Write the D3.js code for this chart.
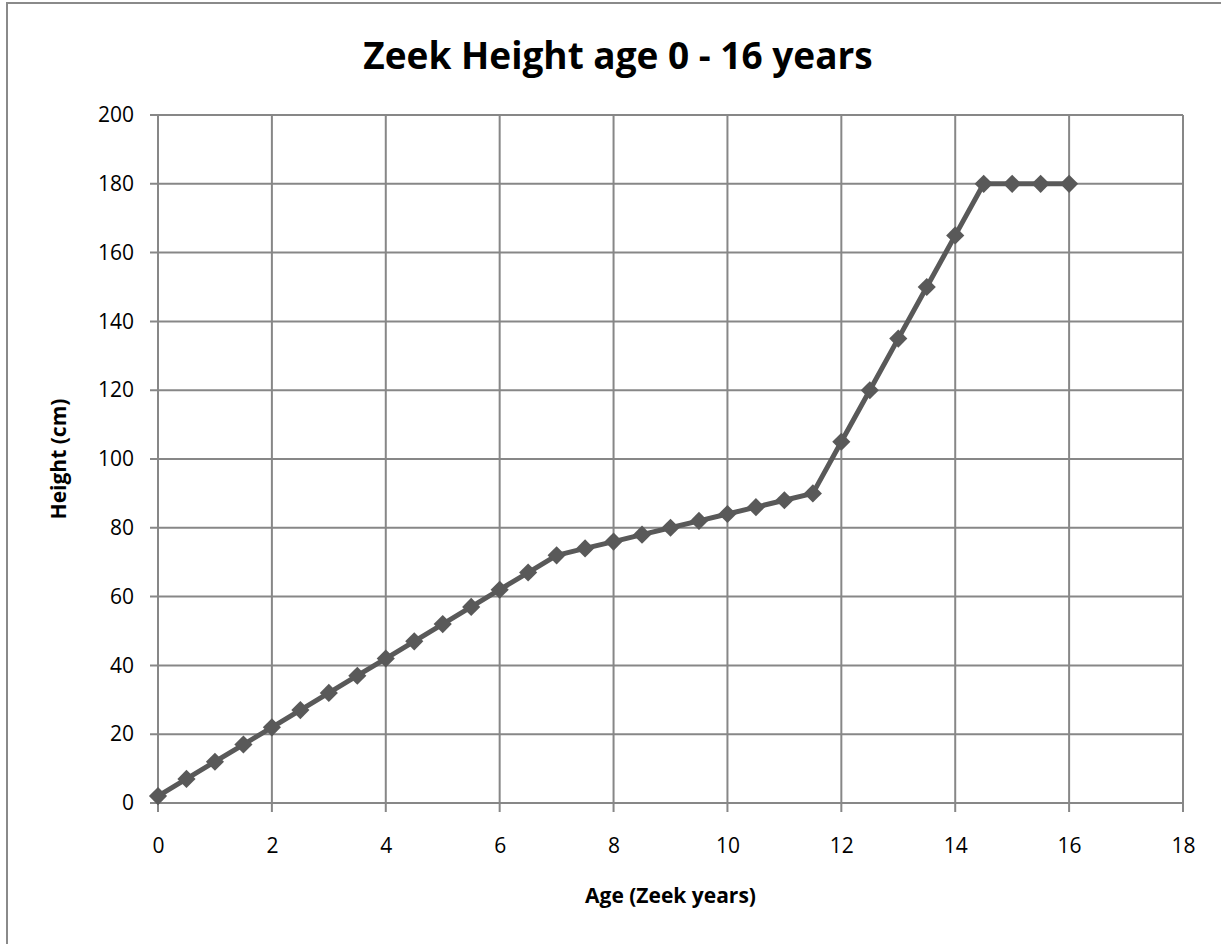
<!DOCTYPE html>
<html>
<head>
<meta charset="utf-8">
<script src="https://cdn.jsdelivr.net/npm/d3@7"></script>
<style>
  body { margin: 0; background: #fff; }
  svg { display: block; font-family: "Open Sans", sans-serif; }
</style>
</head>
<body>
<div id="chart"></div>
<script>
const ages = [0, 0.5, 1, 1.5, 2, 2.5, 3, 3.5, 4, 4.5, 5, 5.5, 6, 6.5, 7, 7.5, 8, 8.5, 9, 9.5, 10, 10.5, 11, 11.5, 12, 12.5, 13, 13.5, 14, 14.5, 15, 15.5, 16];
const heights = [2, 7, 12, 17, 22, 27, 32, 37, 42, 47, 52, 57, 62, 67, 72, 74, 76, 78, 80, 82, 84, 86, 88, 90, 105, 120, 135, 150, 165, 180, 180, 180, 180];
const xTicks = [0, 2, 4, 6, 8, 10, 12, 14, 16, 18];
const yTicks = [0, 20, 40, 60, 80, 100, 120, 140, 160, 180, 200];

const W = 1221, H = 944;
const margin = { top: 115, right: 38, bottom: 141, left: 158 };
const width = W - margin.left - margin.right;
const height = H - margin.top - margin.bottom;

const svg = d3.select('#chart')
  .append('svg')
  .attr('width', W)
  .attr('height', H);

// outer chart border (runs off the right and bottom edges)
svg.append('rect')
  .attr('x', 7).attr('y', 3)
  .attr('width', W).attr('height', H)
  .attr('fill', 'none')
  .attr('stroke', '#8a8a8a')
  .attr('stroke-width', 2);

const g = svg.append('g')
  .attr('transform', `translate(${margin.left}, ${margin.top})`);

const x = d3.scaleLinear().domain([0, 18]).range([0, width]);
const y = d3.scaleLinear().domain([0, 200]).range([height, 0]);

// gridlines + tick stubs
g.append('g')
  .selectAll('line')
  .data(yTicks)
  .enter()
  .append('line')
  .attr('x1', -8).attr('x2', width)
  .attr('y1', d => y(d)).attr('y2', d => y(d))
  .attr('stroke', '#878787')
  .attr('stroke-width', 2);

g.append('g')
  .selectAll('line')
  .data(xTicks)
  .enter()
  .append('line')
  .attr('x1', d => x(d)).attr('x2', d => x(d))
  .attr('y1', 0).attr('y2', height + 9)
  .attr('stroke', '#878787')
  .attr('stroke-width', 2);

// tick labels (axis lines hidden)
const xAxis = g.append('g')
  .attr('transform', `translate(0, ${height})`)
  .call(d3.axisBottom(x).tickValues(xTicks).tickSize(0).tickPadding(35));
const yAxis = g.append('g')
  .call(d3.axisLeft(y).tickValues(yTicks).tickSize(0).tickPadding(24));
[xAxis, yAxis].forEach(a => {
  a.select('.domain').remove();
  a.selectAll('text')
    .style('font-family', '"Open Sans", sans-serif')
    .style('font-size', '21px')
    .attr('fill', '#000');
});

// series line
const line = d3.line()
  .x((d, i) => x(ages[i]))
  .y(d => y(d));

g.append('path')
  .datum(heights)
  .attr('d', line)
  .attr('fill', 'none')
  .attr('stroke', '#595959')
  .attr('stroke-width', 5)
  .attr('stroke-linejoin', 'round');

// diamond markers
const diamond = d3.symbol().type(d3.symbolDiamond2).size(210);
g.append('g')
  .selectAll('path')
  .data(heights)
  .enter()
  .append('path')
  .attr('d', diamond)
  .attr('transform', (d, i) => `translate(${x(ages[i])}, ${y(d)})`)
  .attr('fill', '#595959');

// titles
svg.append('text')
  .attr('x', 618)
  .attr('y', 69)
  .attr('text-anchor', 'middle')
  .style('font-size', '37px')
  .style('font-weight', 'bold')
  .text('Zeek Height age 0 - 16 years');

svg.append('text')
  .attr('x', margin.left + width / 2)
  .attr('y', 903)
  .attr('text-anchor', 'middle')
  .style('font-size', '21px')
  .style('font-weight', 'bold')
  .text('Age (Zeek years)');

svg.append('text')
  .attr('transform', 'rotate(-90)')
  .attr('x', -(margin.top + height / 2))
  .attr('y', 66)
  .attr('text-anchor', 'middle')
  .style('font-size', '21px')
  .style('font-weight', 'bold')
  .text('Height (cm)');
</script>
</body>
</html>
